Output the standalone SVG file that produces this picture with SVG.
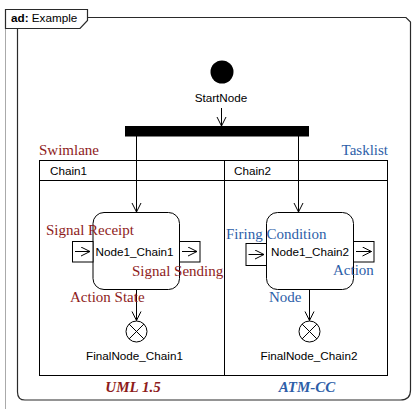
<svg xmlns="http://www.w3.org/2000/svg" width="417" height="409" viewBox="0 0 417 409">
  <style>
    .ln { fill: none; stroke: #000; stroke-width: 1; }
    .frm { fill: none; stroke: #2a2a2a; stroke-width: 1.2; }
    .sans { font-family: "Liberation Sans", Arial, sans-serif; font-size: 11.7px; fill: #000; }
    .red { font-family: "Liberation Serif", "Times New Roman", serif; font-size: 15px; fill: #8e1b1b; }
    .blue { font-family: "Liberation Serif", "Times New Roman", serif; font-size: 15px; fill: #2d5ea8; }
    .tag { font-family: "Liberation Serif", "Times New Roman", serif; font-size: 15px; font-weight: bold; font-style: italic; }
    .node { fill: #fff; stroke: #000; stroke-width: 1; }
  </style>
  <defs>
    <marker id="open" markerWidth="12" markerHeight="12" refX="10" refY="5" orient="auto" markerUnits="userSpaceOnUse">
      <polyline points="1,0.5 10,5 1,9.5" fill="none" stroke="#000" stroke-width="1"/>
    </marker>
  </defs>

  <rect width="417" height="409" fill="#fff"/>

  <!-- diagram frame with name tag -->
  <g id="frame">
    <line x1="5.5" y1="9" x2="5.5" y2="409" stroke="#aaa" stroke-width="1"/>
    <path class="frm" d="M87,17.5 H406 L410.5,22 V390 Q410.5,400 400.5,400 H25 Q17.5,400 17.5,392 V28.5"/>
    <path d="M5.5,9.5 H87.5 V20.5 L80,28.5 H5.5 Z" fill="#fff" stroke="#2a2a2a" stroke-width="1.2"/>
    <text x="11" y="22" class="sans" font-size="11.5"><tspan font-weight="bold">ad:</tspan> Example</text>
  </g>

  <!-- swimlane partition -->
  <g id="swimlane">
    <rect class="ln" x="39.5" y="160.5" width="348" height="215"/>
    <line class="ln" x1="39.5" y1="180.5" x2="387.5" y2="180.5"/>
    <line class="ln" x1="224.5" y1="160.5" x2="224.5" y2="375.5"/>
    <text x="50" y="175" class="sans">Chain1</text>
    <text x="234" y="175" class="sans">Chain2</text>
  </g>

  <!-- connectors -->
  <g id="connectors">
    <line class="ln" x1="221.5" y1="108" x2="221.5" y2="126" marker-end="url(#open)"/>
    <line class="ln" x1="136.5" y1="136" x2="136.5" y2="212" marker-end="url(#open)"/>
    <line class="ln" x1="298.5" y1="136" x2="298.5" y2="212" marker-end="url(#open)"/>
    <line class="ln" x1="136.5" y1="289" x2="136.5" y2="320.5" marker-end="url(#open)"/>
    <line class="ln" x1="309.5" y1="289" x2="309.5" y2="320.5" marker-end="url(#open)"/>
  </g>

  <g id="StartNode">
    <circle cx="222" cy="72" r="11.5" fill="#000"/>
    <text x="221" y="101.5" class="sans" text-anchor="middle">StartNode</text>
  </g>

  <g id="ForkBar">
    <rect x="125" y="126" width="184" height="10.5" fill="#000"/>
  </g>

  <g id="Node1_Chain1">
    <rect class="node" x="93" y="212.5" width="86.5" height="77" rx="11"/>
    <rect class="node" x="72.5" y="241.5" width="20.5" height="20.5"/>
    <line class="ln" x1="75" y1="251.5" x2="90" y2="251.5" marker-end="url(#open)"/>
    <rect class="node" x="179.5" y="241.5" width="20.5" height="20.5"/>
    <line class="ln" x1="182" y1="251.5" x2="197" y2="251.5" marker-end="url(#open)"/>
    <text x="134.5" y="255.5" class="sans" text-anchor="middle">Node1_Chain1</text>
  </g>

  <g id="Node1_Chain2">
    <rect class="node" x="266.5" y="212.5" width="87" height="77" rx="11"/>
    <rect class="node" x="246" y="243.5" width="20.5" height="22"/>
    <line class="ln" x1="248.5" y1="254.5" x2="264" y2="254.5" marker-end="url(#open)"/>
    <rect class="node" x="353.5" y="241.5" width="20.5" height="20.5"/>
    <line class="ln" x1="356" y1="251.5" x2="371.5" y2="251.5" marker-end="url(#open)"/>
    <text x="310" y="255.5" class="sans" text-anchor="middle">Node1_Chain2</text>
  </g>

  <g id="FinalNode_Chain1">
    <circle class="node" cx="136.5" cy="331.5" r="10.5"/>
    <path class="ln" d="M129.1,324.1 L143.9,338.9 M143.9,324.1 L129.1,338.9"/>
    <text x="134.5" y="360" class="sans" text-anchor="middle">FinalNode_Chain1</text>
  </g>

  <g id="FinalNode_Chain2">
    <circle class="node" cx="309.5" cy="331.5" r="10.5"/>
    <path class="ln" d="M302.1,324.1 L316.9,338.9 M316.9,324.1 L302.1,338.9"/>
    <text x="309" y="360" class="sans" text-anchor="middle">FinalNode_Chain2</text>
  </g>

  <!-- notation annotations -->
  <g id="annotations">
    <text x="39" y="155" class="red">Swimlane</text>
    <text x="388" y="155" class="blue" text-anchor="end">Tasklist</text>
    <text x="46" y="235" class="red">Signal Receipt</text>
    <text x="132" y="276" class="red">Signal Sending</text>
    <text x="70" y="302" class="red">Action State</text>
    <text x="226" y="238.5" class="blue">Firing Condition</text>
    <text x="333" y="275" class="blue">Action</text>
    <text x="269" y="302" class="blue">Node</text>
    <text x="133" y="391.5" class="tag" fill="#8e1b1b" text-anchor="middle">UML 1.5</text>
    <text x="307" y="391.5" class="tag" fill="#2d5ea8" text-anchor="middle">ATM-CC</text>
  </g>
</svg>
